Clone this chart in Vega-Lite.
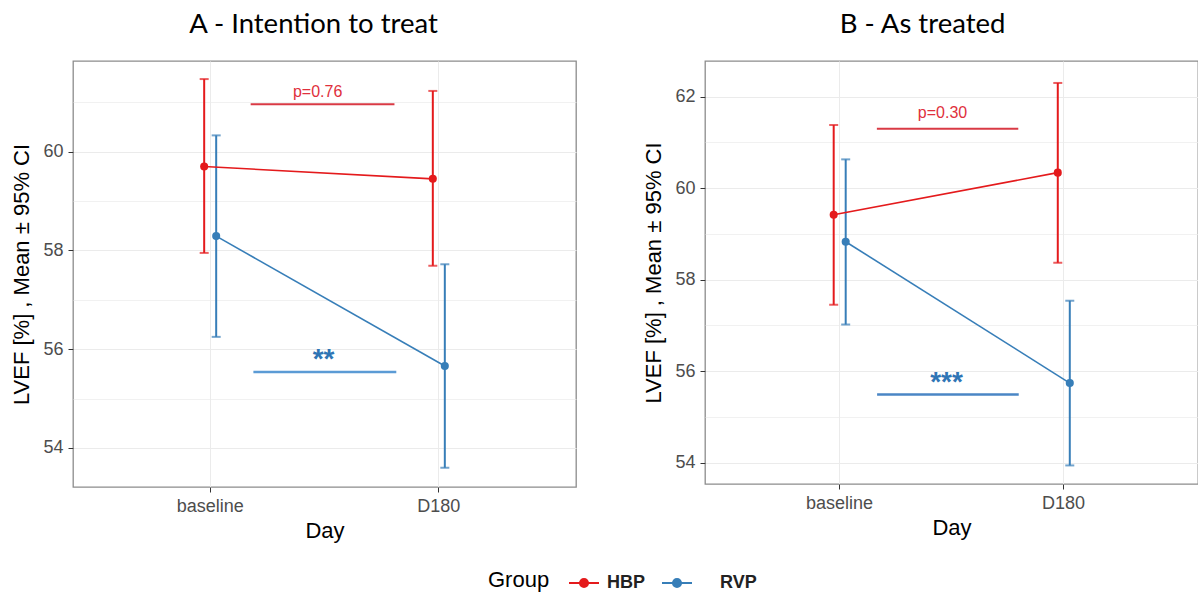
{
  "$schema": "https://vega.github.io/schema/vega-lite/v6.json",
  "padding": {"left": 10, "top": 9, "right": 0, "bottom": 0},
  "datasets": {
    "points": [
      {"panel": "A", "Day": "baseline", "Group": "HBP", "mean": 59.70, "lo": 57.95, "hi": 61.47},
      {"panel": "A", "Day": "baseline", "Group": "RVP", "mean": 58.29, "lo": 56.25, "hi": 60.33},
      {"panel": "A", "Day": "D180", "Group": "HBP", "mean": 59.45, "lo": 57.69, "hi": 61.23},
      {"panel": "A", "Day": "D180", "Group": "RVP", "mean": 55.66, "lo": 53.60, "hi": 57.72},
      {"panel": "B", "Day": "baseline", "Group": "HBP", "mean": 59.42, "lo": 57.45, "hi": 61.38},
      {"panel": "B", "Day": "baseline", "Group": "RVP", "mean": 58.83, "lo": 57.02, "hi": 60.63},
      {"panel": "B", "Day": "D180", "Group": "HBP", "mean": 60.34, "lo": 58.37, "hi": 62.30},
      {"panel": "B", "Day": "D180", "Group": "RVP", "mean": 55.74, "lo": 53.94, "hi": 57.54}
    ],
    "notes": [
      {"panel": "A", "Group": "HBP", "x1": 1.177, "x2": 1.806, "y": 60.96, "tx": 1.47, "ty": 61.11, "label": "p=0.76"},
      {"panel": "A", "Group": "RVP", "x1": 1.189, "x2": 1.814, "y": 55.54, "tx": 1.496, "ty": 55.62, "label": "**"},
      {"panel": "B", "Group": "HBP", "x1": 1.167, "x2": 1.798, "y": 61.30, "tx": 1.46, "ty": 61.54, "label": "p=0.30"},
      {"panel": "B", "Group": "RVP", "x1": 1.168, "x2": 1.80, "y": 55.49, "tx": 1.478, "ty": 55.56, "label": "***"}
    ]
  },
  "spacing": 65,
  "hconcat": [
    {
      "width": 503,
      "height": 426,
      "title": {"text": "A - Intention to treat", "offset": 23, "dx": -11},
      "layer": [
        {
          "data": {"name": "points"},
          "transform": [{"filter": "datum.panel == 'A'"}],
          "encoding": {
            "x": {"field": "Day", "type": "nominal", "sort": ["baseline", "D180"], "title": "Day",
              "scale": {"type": "band", "paddingInner": 0.895, "paddingOuter": 0.5475},
              "axis": {"labelAngle": 0, "bandPosition": 0.5, "grid": true, "titlePadding": 5}},
            "xOffset": {"field": "Group", "type": "nominal", "sort": ["HBP", "RVP"]},
            "color": {"field": "Group", "type": "nominal",
              "scale": {"domain": ["HBP", "RVP"], "range": ["#E41A1C", "#377EB8"]},
              "legend": {"title": "Group", "orient": "none", "legendX": 415, "legendY": 506, "direction": "horizontal", "titleOrient": "left",
                "symbolType": "M-1,0L1,0M-0.27,0A0.27,0.27,0,1,1,0.27,0A0.27,0.27,0,1,1,-0.27,0Z",
                "symbolSize": 900, "symbolStrokeWidth": 2,
                "encode": {
                  "symbols": {"update": {"fill": {"scale": "color", "field": "value"}, "stroke": {"scale": "color", "field": "value"}}},
                  "labels": {"update": {"dx": {"signal": "datum.value == 'RVP' ? 20 : 0"}}}
                }}}
          },
          "layer": [
            {"mark": {"type": "rule", "strokeWidth": 2},
             "encoding": {"y": {"field": "lo", "type": "quantitative", "scale": {"domain": [53.21, 61.836], "nice": false, "zero": false},
               "title": "LVEF [%] ,  Mean ± 95% CI",
               "axis": {"values": [54, 55, 56, 57, 58, 59, 60, 61], "labelExpr": "datum.value % 2 == 0 ? datum.label : ''", "labelOverlap": false,
                 "tickOpacity": {"condition": {"test": "datum.value % 2 != 0", "value": 0}, "value": 1},
                 "gridWidth": {"condition": {"test": "datum.value % 2 != 0", "value": 0.7}, "value": 1.2}}},
               "y2": {"field": "hi"}}},
            {"mark": {"type": "tick", "thickness": 2, "size": 9},
             "encoding": {"y": {"field": "lo", "type": "quantitative", "scale": {"domain": [53.21, 61.836], "nice": false, "zero": false}}}},
            {"mark": {"type": "tick", "thickness": 2, "size": 9},
             "encoding": {"y": {"field": "hi", "type": "quantitative", "scale": {"domain": [53.21, 61.836], "nice": false, "zero": false}}}},
            {"mark": {"type": "line", "strokeWidth": 1.6},
             "encoding": {"y": {"field": "mean", "type": "quantitative", "scale": {"domain": [53.21, 61.836], "nice": false, "zero": false}}}},
            {"mark": {"type": "point", "filled": true, "size": 65, "opacity": 1},
             "encoding": {"y": {"field": "mean", "type": "quantitative", "scale": {"domain": [53.21, 61.836], "nice": false, "zero": false}}}}
          ]
        },
        {
          "data": {"name": "notes"},
          "transform": [{"filter": "datum.panel == 'A'"}],
          "layer": [
            {"transform": [{"filter": "datum.Group == 'HBP'"}],
             "mark": {"type": "rule", "strokeWidth": 2, "color": "#d93a45"},
             "encoding": {"x": {"field": "x1", "type": "quantitative", "scale": {"domain": [0.4, 2.6], "nice": false, "zero": false}, "axis": null},
               "x2": {"field": "x2"},
               "y": {"field": "y", "type": "quantitative", "scale": {"domain": [53.21, 61.836], "nice": false, "zero": false}}}},
            {"transform": [{"filter": "datum.Group == 'HBP'"}],
             "mark": {"type": "text", "fontSize": 16, "font": "Liberation Sans", "color": "#e0303c", "baseline": "alphabetic", "align": "center"},
             "encoding": {"x": {"field": "tx", "type": "quantitative", "scale": {"domain": [0.4, 2.6], "nice": false, "zero": false}, "axis": null},
               "y": {"field": "ty", "type": "quantitative", "scale": {"domain": [53.21, 61.836], "nice": false, "zero": false}},
               "text": {"field": "label"}}},
            {"transform": [{"filter": "datum.Group == 'RVP'"}],
             "mark": {"type": "rule", "strokeWidth": 2.5, "color": "#5b9bd5"},
             "encoding": {"x": {"field": "x1", "type": "quantitative", "scale": {"domain": [0.4, 2.6], "nice": false, "zero": false}, "axis": null},
               "x2": {"field": "x2"},
               "y": {"field": "y", "type": "quantitative", "scale": {"domain": [53.21, 61.836], "nice": false, "zero": false}}}},
            {"transform": [{"filter": "datum.Group == 'RVP'"}],
             "mark": {"type": "text", "fontSize": 28, "fontWeight": "bold", "font": "Liberation Sans", "color": "#2f75b5", "baseline": "alphabetic", "align": "center"},
             "encoding": {"x": {"field": "tx", "type": "quantitative", "scale": {"domain": [0.4, 2.6], "nice": false, "zero": false}, "axis": null},
               "y": {"field": "ty", "type": "quantitative", "scale": {"domain": [53.21, 61.836], "nice": false, "zero": false}},
               "text": {"field": "label"}}}
          ]
        }
      ],
      "resolve": {"scale": {"x": "independent"}}
    },
    {
      "width": 493,
      "height": 423,
      "title": {"text": "B - As treated", "offset": 23, "dx": -29},
      "layer": [
        {
          "data": {"name": "points"},
          "transform": [{"filter": "datum.panel == 'B'"}],
          "encoding": {
            "x": {"field": "Day", "type": "nominal", "sort": ["baseline", "D180"], "title": "Day",
              "scale": {"type": "band", "paddingInner": 0.895, "paddingOuter": 0.5475},
              "axis": {"labelAngle": 0, "bandPosition": 0.5, "grid": true, "titlePadding": 5}},
            "xOffset": {"field": "Group", "type": "nominal", "sort": ["HBP", "RVP"]},
            "color": {"field": "Group", "type": "nominal",
              "scale": {"domain": ["HBP", "RVP"], "range": ["#E41A1C", "#377EB8"]}}
          },
          "layer": [
            {"mark": {"type": "rule", "strokeWidth": 2},
             "encoding": {"y": {"field": "lo", "type": "quantitative", "scale": {"domain": [53.534, 62.78], "nice": false, "zero": false},
               "title": "LVEF [%] ,  Mean ± 95% CI",
               "axis": {"values": [54, 55, 56, 57, 58, 59, 60, 61, 62], "labelExpr": "datum.value % 2 == 0 ? datum.label : ''", "labelOverlap": false,
                 "tickOpacity": {"condition": {"test": "datum.value % 2 != 0", "value": 0}, "value": 1},
                 "gridWidth": {"condition": {"test": "datum.value % 2 != 0", "value": 0.7}, "value": 1.2}}},
               "y2": {"field": "hi"}}},
            {"mark": {"type": "tick", "thickness": 2, "size": 9},
             "encoding": {"y": {"field": "lo", "type": "quantitative", "scale": {"domain": [53.534, 62.78], "nice": false, "zero": false}}}},
            {"mark": {"type": "tick", "thickness": 2, "size": 9},
             "encoding": {"y": {"field": "hi", "type": "quantitative", "scale": {"domain": [53.534, 62.78], "nice": false, "zero": false}}}},
            {"mark": {"type": "line", "strokeWidth": 1.6},
             "encoding": {"y": {"field": "mean", "type": "quantitative", "scale": {"domain": [53.534, 62.78], "nice": false, "zero": false}}}},
            {"mark": {"type": "point", "filled": true, "size": 65, "opacity": 1},
             "encoding": {"y": {"field": "mean", "type": "quantitative", "scale": {"domain": [53.534, 62.78], "nice": false, "zero": false}}}}
          ]
        },
        {
          "data": {"name": "notes"},
          "transform": [{"filter": "datum.panel == 'B'"}],
          "layer": [
            {"transform": [{"filter": "datum.Group == 'HBP'"}],
             "mark": {"type": "rule", "strokeWidth": 2, "color": "#d93a45"},
             "encoding": {"x": {"field": "x1", "type": "quantitative", "scale": {"domain": [0.4, 2.6], "nice": false, "zero": false}, "axis": null},
               "x2": {"field": "x2"},
               "y": {"field": "y", "type": "quantitative", "scale": {"domain": [53.534, 62.78], "nice": false, "zero": false}}}},
            {"transform": [{"filter": "datum.Group == 'HBP'"}],
             "mark": {"type": "text", "fontSize": 16, "font": "Liberation Sans", "color": "#e0303c", "baseline": "alphabetic", "align": "center"},
             "encoding": {"x": {"field": "tx", "type": "quantitative", "scale": {"domain": [0.4, 2.6], "nice": false, "zero": false}, "axis": null},
               "y": {"field": "ty", "type": "quantitative", "scale": {"domain": [53.534, 62.78], "nice": false, "zero": false}},
               "text": {"field": "label"}}},
            {"transform": [{"filter": "datum.Group == 'RVP'"}],
             "mark": {"type": "rule", "strokeWidth": 2.5, "color": "#4a86c5"},
             "encoding": {"x": {"field": "x1", "type": "quantitative", "scale": {"domain": [0.4, 2.6], "nice": false, "zero": false}, "axis": null},
               "x2": {"field": "x2"},
               "y": {"field": "y", "type": "quantitative", "scale": {"domain": [53.534, 62.78], "nice": false, "zero": false}}}},
            {"transform": [{"filter": "datum.Group == 'RVP'"}],
             "mark": {"type": "text", "fontSize": 28, "fontWeight": "bold", "font": "Liberation Sans", "color": "#2f75b5", "baseline": "alphabetic", "align": "center"},
             "encoding": {"x": {"field": "tx", "type": "quantitative", "scale": {"domain": [0.4, 2.6], "nice": false, "zero": false}, "axis": null},
               "y": {"field": "ty", "type": "quantitative", "scale": {"domain": [53.534, 62.78], "nice": false, "zero": false}},
               "text": {"field": "label"}}}
          ]
        }
      ],
      "resolve": {"scale": {"x": "independent"}}
    }
  ],
  "config": {
    "font": "Liberation Sans",
    "view": {"stroke": "#8c8c8c", "strokeWidth": 1.3},
    "title": {"font": "Lato", "fontSize": 27.5, "fontWeight": "normal", "color": "#000000"},
    "axis": {"labelFont": "Liberation Sans", "labelFontSize": 18, "labelColor": "#4d4d4d", "labelPadding": 5,
      "titleFont": "Liberation Sans", "titleFontSize": 22, "titleFontWeight": "normal", "titleColor": "#000000", "titlePadding": 9,
      "tickColor": "#333333", "tickSize": 5, "domain": false, "gridColor": "#ebebeb"},
    "legend": {"titleFont": "Liberation Sans", "titleFontSize": 22, "titleFontWeight": "normal", "titleColor": "#000000",
      "labelFont": "Liberation Sans", "labelFontSize": 18, "labelFontWeight": "bold", "labelColor": "#222222",
      "labelOffset": 7, "columnPadding": 12, "titlePadding": 18}
  }
}
